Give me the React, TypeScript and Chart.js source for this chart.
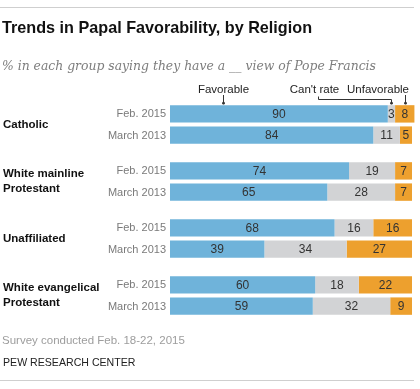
import React, { useEffect, useRef } from 'react';
import { Chart, registerables } from 'chart.js';

Chart.register(...registerables);

// ---- data ----
const groups: (string | string[])[] = [
  'Catholic',
  ['White mainline', 'Protestant'],
  'Unaffiliated',
  ['White evangelical', 'Protestant'],
];
const waves = ['Feb. 2015', 'March 2013'];
const responses = ['Favorable', "Can't rate", 'Unfavorable'];
const favorableFeb2015 = [90, 74, 68, 60];
const cantRateFeb2015 = [3, 19, 16, 18];
const unfavorableFeb2015 = [8, 7, 16, 22];
const favorableMar2013 = [84, 65, 39, 59];
const cantRateMar2013 = [11, 28, 34, 32];
const unfavorableMar2013 = [5, 7, 27, 9];

const titleText = 'Trends in Papal Favorability, by Religion';
const subtitleText = '% in each group saying they have a __ view of Pope Francis';
const noteText = 'Survey conducted Feb. 18-22, 2015';
const sourceText = 'PEW RESEARCH CENTER';

const colors = ['#6fb3da', '#d2d3d5', '#eda02e'];
const SANS = "'Liberation Sans', Arial, sans-serif";
const SERIF = "'DejaVu Serif', Georgia, serif";

const waveSeries = [
  [favorableFeb2015, cantRateFeb2015, unfavorableFeb2015],
  [favorableMar2013, cantRateMar2013, unfavorableMar2013],
];

const decorPlugin = {
  id: 'decor',
  afterDraw(chart: any) {
    const ctx: CanvasRenderingContext2D = chart.ctx;
    const area = chart.chartArea;
    ctx.save();
    // rules
    ctx.strokeStyle = '#cfcfcf';
    ctx.lineWidth = 1;
    ctx.beginPath();
    ctx.moveTo(0, 7.5);
    ctx.lineTo(414, 7.5);
    ctx.moveTo(0, 380.5);
    ctx.lineTo(414, 380.5);
    ctx.stroke();

    // title & subtitle
    ctx.textAlign = 'left';
    ctx.textBaseline = 'alphabetic';
    ctx.fillStyle = '#111';
    ctx.font = `bold 16.2px ${SANS}`;
    ctx.fillText(titleText, 2, 33);
    ctx.fillStyle = '#7d7d7d';
    ctx.font = `italic 12.4px ${SERIF}`;
    ctx.fillText(subtitleText, 2, 70);

    // footer
    ctx.fillStyle = '#9d9d9d';
    ctx.font = `11.5px ${SANS}`;
    ctx.fillText(noteText, 2, 344);
    ctx.fillStyle = '#222';
    ctx.font = `10.6px ${SANS}`;
    ctx.fillText(sourceText, 3, 365.5);

    // wave labels next to bars
    ctx.font = `11px ${SANS}`;
    ctx.fillStyle = '#7a7a7a';
    ctx.textAlign = 'right';
    ctx.textBaseline = 'middle';
    waves.forEach((w, wi) => {
      const meta = chart.getDatasetMeta(wi * 3);
      meta.data.forEach((el: any) => {
        ctx.fillText(w, el.base - 4, el.y + 0.5);
      });
    });

    // values inside segments
    ctx.font = `12px ${SANS}`;
    ctx.fillStyle = '#333';
    ctx.textAlign = 'center';
    chart.data.datasets.forEach((ds: any, di: number) => {
      const meta = chart.getDatasetMeta(di);
      meta.data.forEach((el: any, i: number) => {
        const v = ds.data[i];
        ctx.fillText(String(v), (el.x + el.base) / 2, el.y + 0.5);
      });
    });

    // response labels with leader lines (on first bar)
    const fav = chart.getDatasetMeta(0).data[0] as any;
    const cant = chart.getDatasetMeta(1).data[0] as any;
    const unf = chart.getDatasetMeta(2).data[0] as any;
    const barTop = fav.y - fav.height / 2;
    ctx.font = `11.5px ${SANS}`;
    ctx.fillStyle = '#222';
    ctx.textBaseline = 'alphabetic';
    const favX = Math.round(fav.base + (fav.x - fav.base) * 0.245) + 0.5;
    ctx.textAlign = 'center';
    ctx.fillText(responses[0], favX, 93);
    const cantX = Math.round((cant.x + cant.base) / 2) + 0.5;
    ctx.fillText(responses[1], cantX - 77, 93);
    const unfX = Math.round((unf.x + unf.base) / 2) + 0.5;
    ctx.textAlign = 'right';
    ctx.fillText(responses[2], area.right - 3, 93);

    ctx.strokeStyle = '#333';
    ctx.lineWidth = 1;
    ctx.beginPath();
    ctx.moveTo(favX, 95);
    ctx.lineTo(favX, barTop - 1);
    const bx = Math.round(cantX - 74) + 0.5;
    ctx.moveTo(bx, 96.5);
    ctx.lineTo(bx, 99.5);
    ctx.lineTo(cantX, 99.5);
    ctx.lineTo(cantX, barTop - 1);
    ctx.moveTo(unfX, 95);
    ctx.lineTo(unfX, barTop - 1);
    ctx.stroke();
    ctx.fillStyle = '#333';
    [favX, cantX, unfX].forEach((x) => {
      ctx.beginPath();
      ctx.arc(x, barTop - 2, 1.4, 0, Math.PI * 2);
      ctx.fill();
    });
    ctx.restore();
  },
};

export default function App() {
  const ref = useRef<HTMLCanvasElement | null>(null);
  useEffect(() => {
    document.body.style.margin = '0';
    const canvas = ref.current;
    if (!canvas) return;
    const datasets: any[] = [];
    waveSeries.forEach((series, wi) => {
      series.forEach((vals, ri) => {
        datasets.push({
          label: responses[ri],
          data: vals,
          stack: waves[wi],
          backgroundColor: colors[ri],
          borderWidth: 0,
          categoryPercentage: 0.745,
          barPercentage: 0.82,
          clip: false,
        });
      });
    });
    const chart = new Chart(canvas, {
      type: 'bar',
      data: { labels: groups as any, datasets },
      options: {
        indexAxis: 'y',
        responsive: false,
        animation: false,
        devicePixelRatio: 1,
        layout: { padding: { top: 96, bottom: 65, left: 3, right: 8 } },
        plugins: {
          legend: { display: false },
          tooltip: { enabled: false },
        },
        scales: {
          x: { display: false, stacked: true, min: 0, max: 100 },
          y: {
            stacked: true,
            grid: { display: false },
            border: { display: false },
            ticks: {
              crossAlign: 'far',
              color: '#111',
              font: { family: SANS, weight: 'bold', size: 11.5, lineHeight: 1.3 },
            },
            afterFit: (scale: any) => {
              scale.width = 167;
            },
          },
        },
      },
      plugins: [decorPlugin],
    } as any);
    return () => chart.destroy();
  }, []);
  return (
    <div style={{ width: 420, height: 389, position: 'relative' }}>
      <canvas ref={ref} width={420} height={389} style={{ display: 'block' }} />
    </div>
  );
}
